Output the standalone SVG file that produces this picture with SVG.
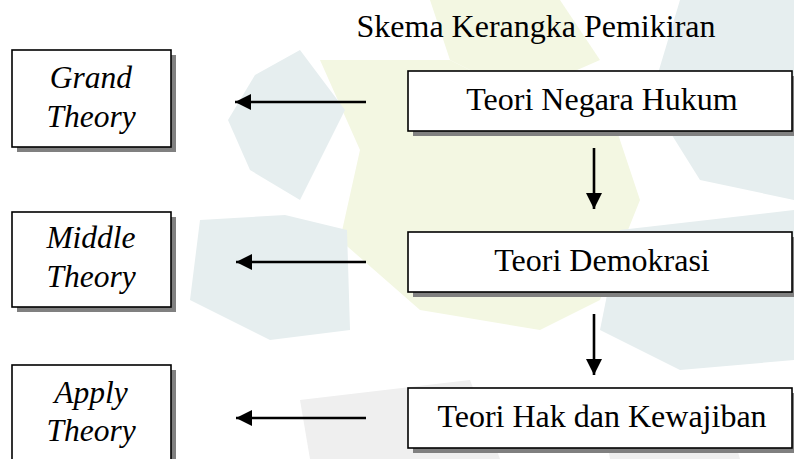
<svg xmlns="http://www.w3.org/2000/svg" width="794" height="459" viewBox="0 0 794 459">
<style>
.box{fill:#ffffff;stroke:#000000;stroke-width:1.6}
.shadow{fill:#808080}
.t{font-family:"Liberation Serif","Times New Roman",serif;font-size:32px;fill:#000000;text-anchor:middle}
.ti{font-family:"Liberation Serif","Times New Roman",serif;font-size:31.5px;font-style:italic;fill:#000000;text-anchor:middle}
.conn{stroke:#000000;stroke-width:2.6;fill:none;marker-end:url(#ah)}
.wy{fill:#f3f7e2}
.wb{fill:#e6eeef}
.wg{fill:#efefef}
</style>
<defs>
<marker id="ah" markerUnits="userSpaceOnUse" markerWidth="16" markerHeight="16" refX="16" refY="8" orient="auto">
<path d="M0,0 L16,8 L0,16 z" fill="#000000"/>
</marker>
</defs>
<rect width="794" height="459" fill="#ffffff"/>
<g id="watermark">
<polygon class="wy" points="430,0 560,0 600,60 520,95 450,60"/>
<polygon class="wy" points="320,60 450,60 520,95 610,110 640,200 600,300 540,330 420,310 340,240 360,150"/>
<polygon class="wb" points="255,75 300,50 345,110 300,200 250,170 228,120"/>
<polygon class="wb" points="680,0 794,0 794,200 700,180 650,100"/>
<polygon class="wb" points="200,220 285,215 347,230 350,330 270,340 190,300"/>
<polygon class="wb" points="620,230 794,210 794,360 680,370 600,330"/>
<polygon class="wg" points="300,400 470,380 500,459 310,459"/>
<polygon class="wg" points="600,400 720,390 740,459 610,459"/>
</g>
<g id="title">
<text class="t" x="536" y="37">Skema Kerangka Pemikiran</text>
</g>
<g id="grand-theory">
<rect class="shadow" x="17" y="55" width="159" height="97"/>
<rect class="box" x="12" y="50" width="159" height="97"/>
<text class="ti" x="91" y="88">Grand</text>
<text class="ti" x="91" y="127">Theory</text>
</g>
<g id="middle-theory">
<rect class="shadow" x="17" y="217" width="159" height="95"/>
<rect class="box" x="12" y="212" width="159" height="95"/>
<text class="ti" x="91" y="248">Middle</text>
<text class="ti" x="91" y="287">Theory</text>
</g>
<g id="apply-theory">
<rect class="shadow" x="17" y="370" width="159" height="100"/>
<rect class="box" x="12" y="365" width="159" height="100"/>
<text class="ti" x="91" y="403">Apply</text>
<text class="ti" x="91" y="441">Theory</text>
</g>
<g id="teori-negara-hukum">
<rect class="shadow" x="413" y="76" width="384" height="60"/>
<rect class="box" x="408" y="71" width="384" height="60"/>
<text class="t" x="602" y="110">Teori Negara Hukum</text>
</g>
<g id="teori-demokrasi">
<rect class="shadow" x="413" y="237" width="384" height="60"/>
<rect class="box" x="408" y="232" width="384" height="60"/>
<text class="t" x="602" y="271">Teori Demokrasi</text>
</g>
<g id="teori-hak">
<rect class="shadow" x="413" y="393" width="384" height="60"/>
<rect class="box" x="408" y="388" width="384" height="60"/>
<text class="t" x="602" y="427">Teori Hak dan Kewajiban</text>
</g>
<g id="connectors">
<line class="conn" x1="366" y1="102" x2="235" y2="102"/>
<line class="conn" x1="366" y1="262" x2="236" y2="262"/>
<line class="conn" x1="366" y1="418" x2="236" y2="418"/>
<line class="conn" x1="594" y1="148" x2="594" y2="209"/>
<line class="conn" x1="594" y1="314" x2="594" y2="375"/>
</g>
</svg>
